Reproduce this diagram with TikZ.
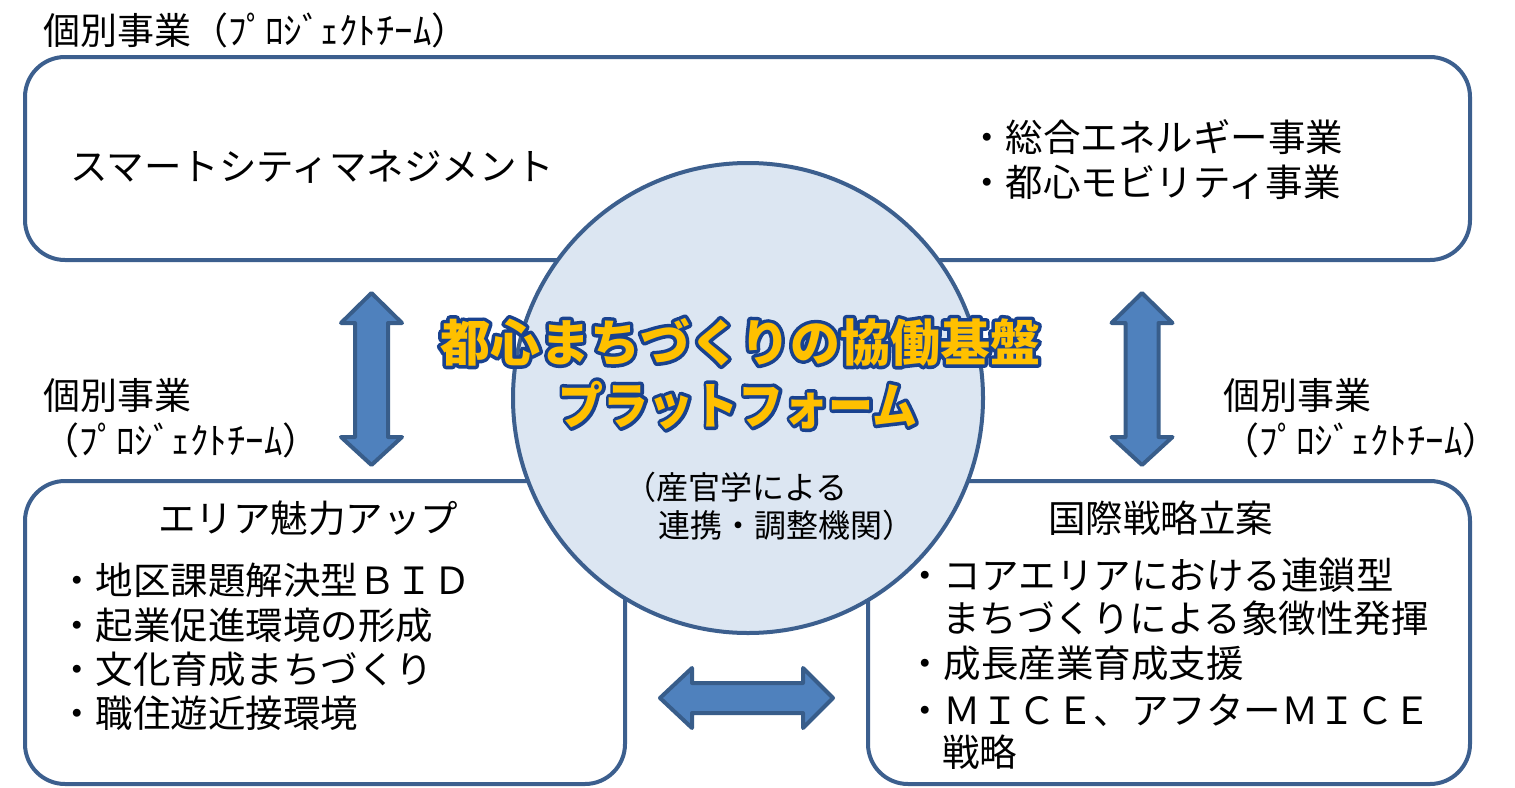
\documentclass[tikz,border=0pt]{standalone}
\usepackage{fontspec}
\setmainfont{Noto Sans CJK JP}
\usetikzlibrary{calc}
\definecolor{bord}{HTML}{3C5F8E}
\definecolor{circfill}{HTML}{DCE6F2}
\definecolor{arrfill}{HTML}{4F81BD}
\definecolor{arrbord}{HTML}{385D8A}
\definecolor{ttlyel}{HTML}{FFC000}
\tikzset{
  panel/.style={draw=bord, line width=4pt, fill=white, rounded corners=40pt},
  platform/.style={circle, draw=bord, line width=4pt, fill=circfill, minimum size=470pt, inner sep=0pt},
  arrowshape/.style={draw=arrbord, fill=arrfill, line width=4pt, line join=round},
  txt/.style={anchor=west, inner sep=0pt, font=\fontsize{37.5}{44}\selectfont},
  small/.style={anchor=west, inner sep=0pt, font=\fontsize{32}{38}\selectfont},
  lbl/.style={anchor=west, inner sep=0pt, font=\fontsize{37}{42}\selectfont},
  ttl/.style={anchor=center, inner sep=0pt, text=ttlyel, font=\fontsize{50}{60}\selectfont\bfseries},
}
\newcommand{\popttl}[1]{\rlap{\special{pdf:literal direct 0.10 0.26 0.56 RG 7 w 1 j 1 Tr}#1\special{pdf:literal direct 0 Tr}}#1}
\begin{document}
\begin{tikzpicture}[x=1pt,y=-1pt]
\useasboundingbox (0,0) rectangle (1515,787);
\clip (0,0) rectangle (1515,787);
% panels
\draw[panel] (25,57) rectangle (1470,260);
\draw[panel] (25,481) rectangle (625,784);
\draw[panel] (868,481) rectangle (1470,784);
% circle
\node[platform] (plat) at (748,398) {};
% arrows
\draw[arrowshape] (371.5,293) -- (402,323) -- (388,323) -- (388,437) -- (402,437) -- (371.5,465) -- (341,437) -- (355,437) -- (355,323) -- (341,323) -- cycle;
\draw[arrowshape] (1142,293) -- (1172.5,323) -- (1158.5,323) -- (1158.5,437) -- (1172.5,437) -- (1142,465) -- (1111.5,437) -- (1125.5,437) -- (1125.5,323) -- (1111.5,323) -- cycle;
\draw[arrowshape] (660,698) -- (692,668) -- (692,683) -- (803,683) -- (803,668) -- (833,698) -- (803,728) -- (803,713) -- (692,713) -- (692,728) -- cycle;
% labels
\node[lbl] (t1) at (43,30) {個別事業（ﾌﾟﾛｼﾞｪｸﾄﾁｰﾑ）};
\node[lbl] (l1) at (43,395) {個別事業};
\node[lbl] (l2) at (42,440) {（ﾌﾟﾛｼﾞｪｸﾄﾁｰﾑ）};
\node[lbl] (r1) at (1223,395) {個別事業};
\node[lbl] (r2) at (1222,440) {（ﾌﾟﾛｼﾞｪｸﾄﾁｰﾑ）};
% top panel text
\node[txt] (smart) at (70,167) {スマートシティマネジメント};
\node[txt] (e1) at (968,137) {・総合エネルギー事業};
\node[txt] (e2) at (968,182) {・都心モビリティ事業};
% bottom-left
\node[txt] (bl0) at (158,518) {エリア魅力アップ};
\node[txt] (bl1) at (58,580) {・地区課題解決型ＢＩＤ};
\node[txt] (bl2) at (58,625) {・起業促進環境の形成};
\node[txt] (bl3) at (58,669) {・文化育成まちづくり};
\node[txt] (bl4) at (58,713) {・職住遊近接環境};
% bottom-right
\node[txt] (br0) at (1048,518) {国際戦略立案};
\node[txt] (br1) at (906,575) {・コアエリアにおける連鎖型};
\node[txt] (br2) at (942,618) {まちづくりによる象徴性発揮};
\node[txt] (br3) at (906,663) {・成長産業育成支援};
\node[txt] (br4) at (906,710) {・ＭＩＣＥ、アフターＭＩＣＥ};
\node[txt] (br5) at (942,752) {戦略};
% centre
\node[small] (c1) at (624,487) {（産官学による};
\node[small] (c2) at (658,525) {連携・調整機関）};
\node[ttl] (title1) at (740,342) {\popttl{都心まちづくりの協働基盤}};
\node[ttl] (title2) at (738,405) {\scalebox{0.9}[1]{\popttl{プラットフォーム}}};
\end{tikzpicture}
\end{document}
